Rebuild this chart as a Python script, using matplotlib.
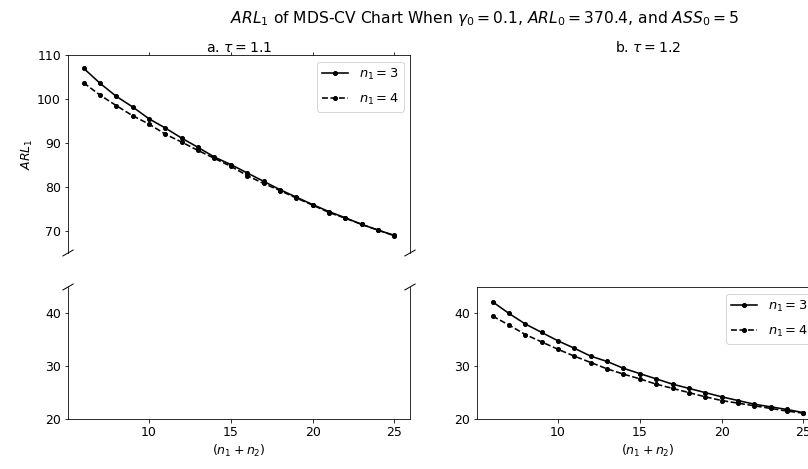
import matplotlib
matplotlib.use("Agg")
import matplotlib.pyplot as plt

# Sample size n1 + n2
n_total = list(range(6, 26))

# ARL1 for tau = 1.1
arl_t11_n3 = [107.0, 103.6, 100.6, 98.2, 95.5, 93.4, 91.1, 89.0, 86.8, 85.1,
              83.2, 81.3, 79.4, 77.7, 76.0, 74.4, 73.0, 71.5, 70.2, 69.0]
arl_t11_n4 = [103.7, 100.9, 98.5, 96.2, 94.3, 92.0, 90.2, 88.3, 86.5, 84.7,
              82.6, 80.8, 79.2, 77.5, 75.9, 74.2, 72.9, 71.5, 70.2, 68.9]

# ARL1 for tau = 1.2
arl_t12_n3 = [42.2, 40.0, 38.0, 36.4, 34.8, 33.4, 31.9, 30.9, 29.6, 28.6,
              27.6, 26.6, 25.8, 25.0, 24.2, 23.5, 22.8, 22.3, 21.8, 21.2]
arl_t12_n4 = [39.5, 37.8, 36.0, 34.6, 33.2, 31.9, 30.7, 29.5, 28.5, 27.6,
              26.6, 25.8, 25.0, 24.2, 23.5, 23.0, 22.5, 22.0, 21.5, 21.1]

labels = [r"$n_1 = 3$", r"$n_1 = 4$"]
xticks = [10, 15, 20, 25]

W, H = 808, 469
fig = plt.figure(figsize=(W / 72, H / 72), dpi=72)

FS_TICK = 12.5
FS_LEG = 13
FS_LABEL = 12.5
FS_SUB = 14
FS_TITLE = 15.5


def px_axes(x0, y0, x1, y1):
    return fig.add_axes([x0 / W, 1 - y1 / H, (x1 - x0) / W, (y1 - y0) / H])


ax_tl = px_axes(68, 55, 410, 253)
ax_bl = px_axes(68, 287, 410, 419)
ax_tr = px_axes(477, 55, 819, 253)
ax_br = px_axes(477, 287, 819, 419)

line_kw = dict(color="black", lw=1.6, marker="o", markersize=4)
leg_kw = dict(loc="upper right", fontsize=FS_LEG, labelspacing=0.75)

# a. tau = 1.1 (upper range)
ax_tl.plot(n_total, arl_t11_n3, ls="-", label=labels[0], **line_kw)
ax_tl.plot(n_total, arl_t11_n4, ls="--", label=labels[1], **line_kw)
ax_tl.set_ylim(65, 110)
ax_tl.set_yticks([70, 80, 90, 100, 110])
ax_tl.legend(**leg_kw)
ax_tl.set_ylabel(r"$ARL_1$", fontsize=FS_LABEL, labelpad=2)
ax_tl.set_title(r"a. $\tau = 1.1$", fontsize=FS_SUB, pad=3)

ax_bl.set_ylim(20, 45)
ax_bl.set_yticks([20, 30, 40])
ax_bl.set_xlabel(r"$(n_1 + n_2)$", fontsize=FS_LABEL)

# b. tau = 1.2 (lower range)
ax_br.plot(n_total, arl_t12_n3, ls="-", label=labels[0], **line_kw)
ax_br.plot(n_total, arl_t12_n4, ls="--", label=labels[1], **line_kw)
ax_br.set_ylim(20, 45)
ax_br.set_yticks([20, 30, 40])
ax_br.legend(**leg_kw)
ax_br.set_xlabel(r"$(n_1 + n_2)$", fontsize=FS_LABEL)

ax_tr.set_title(r"b. $\tau = 1.2$", fontsize=FS_SUB, pad=3)
ax_tr.axis("off")

for ax in (ax_tl, ax_bl, ax_tr, ax_br):
    ax.set_xlim(5.05, 25.95)
    ax.set_xticks(xticks)
    ax.tick_params(labelsize=FS_TICK)

# broken y-axis on the left column
ax_tl.spines["bottom"].set_visible(False)
ax_bl.spines["top"].set_visible(False)
ax_tl.xaxis.tick_top()
ax_tl.tick_params(labeltop=False)
ax_bl.xaxis.tick_bottom()

d = 0.015
kw = dict(transform=ax_tl.transAxes, color="k", clip_on=False, lw=1)
ax_tl.plot((-d, +d), (-d, +d), **kw)
ax_tl.plot((1 - d, 1 + d), (-d, +d), **kw)
kw.update(transform=ax_bl.transAxes)
ax_bl.plot((-d, +d), (1 - d * 1.5, 1 + d * 1.5), **kw)
ax_bl.plot((1 - d, 1 + d), (1 - d * 1.5, 1 + d * 1.5), **kw)

fig.suptitle(r"$ARL_1$ of MDS-CV Chart When $\gamma_0 = 0.1$, $ARL_0 = 370.4$, and $ASS_0 = 5$",
             fontsize=FS_TITLE, x=485 / W, y=1 - 18 / H, va="center")

fig.savefig("out.png", dpi=72)
